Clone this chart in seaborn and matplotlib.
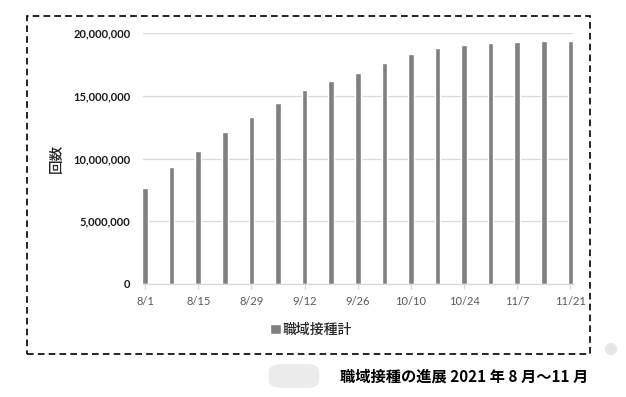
import pandas as pd
import numpy as np
import matplotlib.pyplot as plt
import seaborn as sns
from matplotlib.patches import Rectangle, FancyBboxPatch, Ellipse
from matplotlib.ticker import FuncFormatter

# Data (weekly totals, in doses)
dates = ['8/1', '8/8', '8/15', '8/22', '8/29', '9/5', '9/12', '9/19', '9/26',
         '10/3', '10/10', '10/17', '10/24', '10/31', '11/7', '11/14', '11/21']
doses = [7.67e6, 9.32e6, 10.6e6, 12.09e6, 13.28e6, 14.42e6, 15.46e6, 16.18e6, 16.79e6,
         17.61e6, 18.33e6, 18.78e6, 19.04e6, 19.18e6, 19.26e6, 19.33e6, 19.34e6]
series_name = '職域接種計'
y_label = '回数'
caption = '職域接種の進展 2021 年 8 月～11 月'

df = pd.DataFrame({'date': dates, 'doses': doses, 'series': series_name})

sns.set_theme(style='white')
plt.rcParams['font.family'] = ['Lato', 'Noto Sans CJK JP', 'DejaVu Sans']
cjk = ['Noto Sans CJK JP', 'DejaVu Sans']

fig = plt.figure(figsize=(6.26, 3.97), dpi=100)
ax = fig.add_axes([143 / 626, 1 - 284 / 397, 430 / 626, 251 / 397])

sns.barplot(data=df, x='date', y='doses', hue='series', palette=['#808080'],
            width=0.21, dodge=False, saturation=1, ax=ax)

ax.set_ylim(0, 20e6)
ax.set_xlim(-0.08, 16.1)
ax.set_yticks(np.arange(0, 20e6 + 1, 5e6))
ax.yaxis.set_major_formatter(FuncFormatter(lambda v, p: f'{int(v):,}'))
ax.set_xticks(range(0, len(dates), 2))
ax.set_xticklabels(dates[::2])
ax.grid(axis='y', color='#d9d9d9', lw=0.9)
ax.set_axisbelow(True)
for s in ['left', 'right', 'top']:
    ax.spines[s].set_visible(False)
ax.spines['bottom'].set_color('#d9d9d9')
ax.spines['bottom'].set_linewidth(0.9)
ax.tick_params(axis='y', length=0, pad=9, labelsize=8, labelcolor='#1a1a1a')
for t in ax.get_yticklabels():
    t.set_fontweight('bold')
ax.tick_params(axis='x', bottom=True, length=3.5, width=0.9, color='#d9d9d9',
               pad=5, labelsize=8, labelcolor='#595959')
ax.set_xlabel('')
ax.set_ylabel(y_label, family=cjk, fontsize=10.5, color='#262626', fontweight='medium')
ax.yaxis.set_label_coords(-0.184, 0.5)

sns.move_legend(ax, 'center', bbox_to_anchor=(311 / 626, 1 - 330 / 397),
                bbox_transform=fig.transFigure, frameon=False, title=None,
                handlelength=0.75, handleheight=0.75, handletextpad=0.1,
                prop={'family': cjk, 'size': 10, 'weight': 'medium'})
for t in ax.get_legend().get_texts():
    t.set_color('#262626')

# dashed frame around the chart area
fig.add_artist(Rectangle((27 / 626, 1 - 354 / 397), 563 / 626, 338 / 397,
                         transform=fig.transFigure, fill=False, ec='black',
                         lw=1.2, ls=(0, (4, 2.5))))

# redaction blob and stray dot from the source scan
fig.add_artist(FancyBboxPatch((272 / 626, 1 - 386 / 397), 44 / 626, 20 / 397,
                              boxstyle='round,pad=0.005,rounding_size=0.02',
                              transform=fig.transFigure, fc='#ececec', ec='none'))
fig.add_artist(Ellipse((611 / 626, 1 - 349 / 397), 12 / 626, 12 / 397,
                       transform=fig.transFigure, fc='#e6e6e6', ec='none'))

fig.text(588 / 626, 1 - 377 / 397, caption, ha='right', va='center',
         family=cjk, fontsize=11, fontweight='bold', color='black')

fig.savefig('out.png', dpi=100)
